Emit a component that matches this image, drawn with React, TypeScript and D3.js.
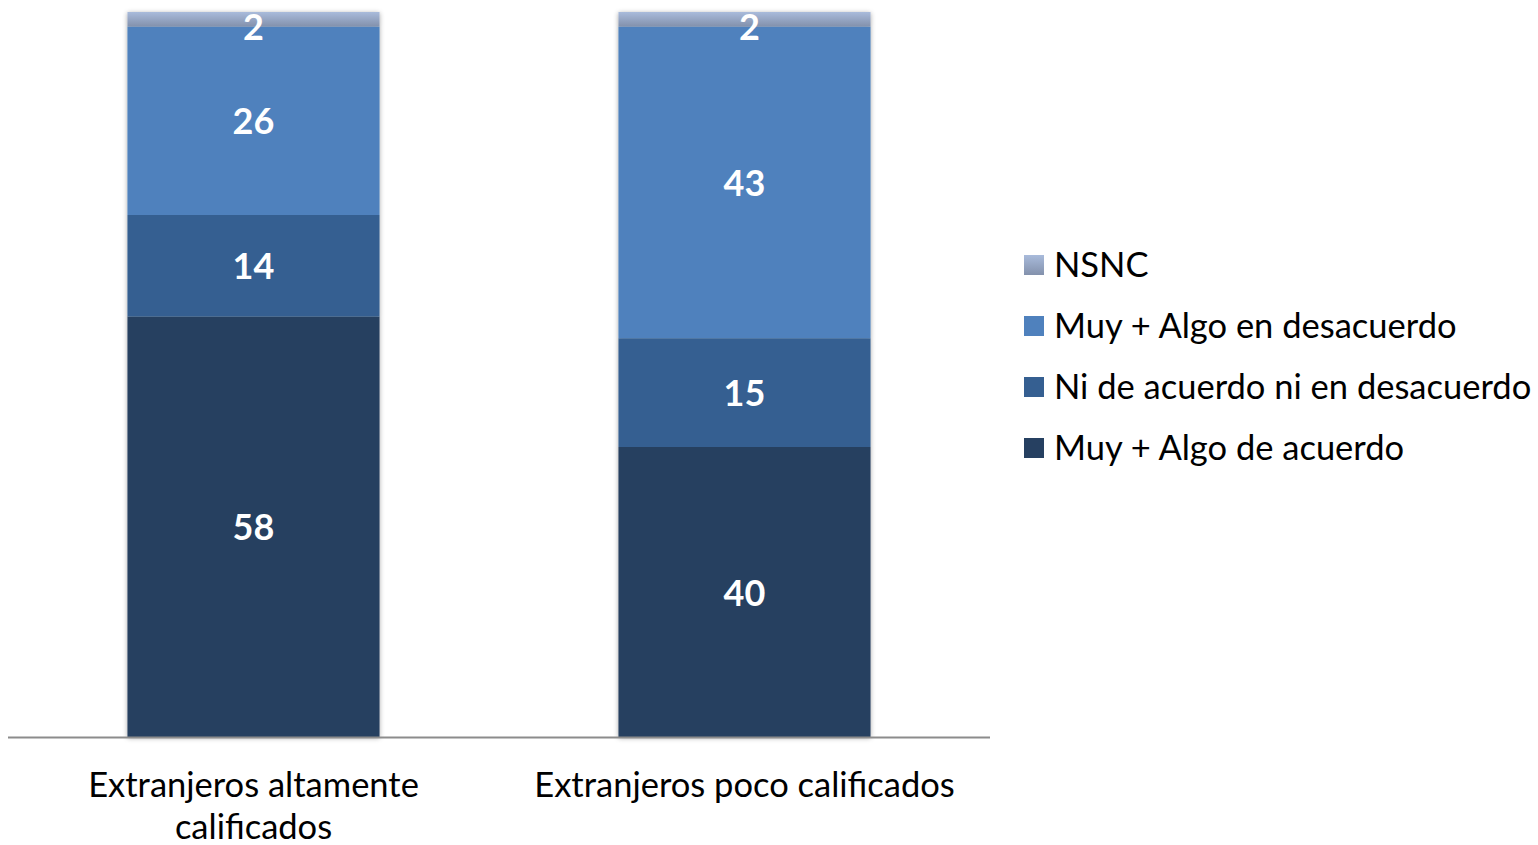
import React from "react";
import * as d3 from "d3";

const categories = ["Extranjeros altamente calificados", "Extranjeros poco calificados"];
const categoryLines = [["Extranjeros altamente", "calificados"], ["Extranjeros poco calificados"]];
const seriesNames = ["Muy + Algo de acuerdo", "Ni de acuerdo ni en desacuerdo", "Muy + Algo en desacuerdo", "NSNC"];
const acuerdo = [58, 40];
const neutral = [14, 15];
const desacuerdo = [26, 43];
const nsnc = [2, 2];
const seriesColors = ["#264061", "#355F91", "#4F81BD", "url(#nsncGrad)"];

const W = 1538, H = 845;
const plot = { left: 8, right: 990, top: 12, bottom: 737 };
const FONT = "Lato, 'Open Sans', sans-serif";

export default function App() {
  const seriesVals = [acuerdo, neutral, desacuerdo, nsnc];
  const rows = categories.map((c, i) => {
    const r: any = { cat: c };
    seriesNames.forEach((s, k) => (r[s] = seriesVals[k][i]));
    return r;
  });
  const stack = d3.stack<any>().keys(seriesNames)(rows);
  const x = d3.scaleBand().domain(categories).range([plot.left, plot.right]).paddingInner(0.4866).paddingOuter(0.2433);
  const y = d3.scaleLinear().domain([0, 100]).range([plot.bottom, plot.top]);

  const legendY = [448, 387, 326, 265];

  return (
    <svg width={W} height={H} style={{ position: "absolute", left: 0, top: 0 }}>
      <defs>
        <linearGradient id="nsncGrad" x1="0" y1="0" x2="0" y2="1">
          <stop offset="0" stopColor="#A9BBDB" />
          <stop offset="1" stopColor="#8391AC" />
        </linearGradient>
        <filter id="shadow" x="-10%" y="-10%" width="120%" height="120%">
          <feDropShadow dx="0" dy="1" stdDeviation="2.5" floodColor="#000" floodOpacity="0.35" />
        </filter>
      </defs>
      <g filter="url(#shadow)">
        {stack.map((layer, k) =>
          layer.map((d, i) => (
            <rect
              key={`${k}-${i}`}
              x={x(categories[i])}
              width={x.bandwidth()}
              y={y(d[1])}
              height={y(d[0]) - y(d[1])}
              fill={seriesColors[k]}
            />
          ))
        )}
      </g>
      <line x1={plot.left} x2={plot.right} y1={plot.bottom + 0.5} y2={plot.bottom + 0.5} stroke="#8C8C8C" strokeWidth={2} />
      {stack.map((layer, k) =>
        layer.map((d, i) => {
          let cx = (x(categories[i]) as number) + x.bandwidth() / 2;
          let cy = (y(d[0]) + y(d[1])) / 2 + 1;
          if (k === 3) {
            cy = y(d[0]) + 1;
            if (i === 1) cx += 5;
          }
          return (
            <text
              key={`l${k}-${i}`}
              x={cx}
              y={cy}
              dy="0.35em"
              textAnchor="middle"
              fill="#fff"
              fontFamily={FONT}
              fontWeight="bold"
              fontSize={36}
            >
              {seriesVals[k][i]}
            </text>
          );
        })
      )}
      {categories.map((c, i) => {
        const cx = (x(c) as number) + x.bandwidth() / 2;
        return categoryLines[i].map((ln, j) => (
          <text key={`c${i}-${j}`} x={cx} y={797 + j * 42} textAnchor="middle" fill="#000" fontFamily={FONT} fontSize={34.5}>
            {ln}
          </text>
        ));
      })}
      {seriesNames.map((s, k) => (
        <g key={s}>
          <rect x={1024} y={legendY[k] - 10} width={20} height={20} fill={seriesColors[k]} />
          <text x={1054} y={legendY[k]} dy="0.35em" fill="#000" fontFamily={FONT} fontSize={34.5}>
            {s}
          </text>
        </g>
      ))}
    </svg>
  );
}
